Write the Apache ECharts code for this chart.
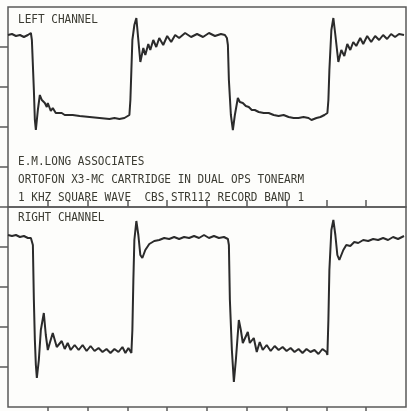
<!DOCTYPE html>
<html>
<head>
<meta charset="utf-8">
<script src="https://cdn.jsdelivr.net/npm/echarts@6/dist/echarts.min.js"></script>
<style>
html,body{margin:0;padding:0;background:#fdfdfb;}
#chart{width:407px;height:411px;}
</style>
</head>
<body>
<div id="chart"></div>
<script>
// time in microseconds (200 us / division), amplitude in mV (20 mV / division)
const xTicks = [200, 400, 600, 800, 1000, 1200, 1400, 1600, 1800];
const yTicksTop = [0, 20, 40, 60, 80];
const yTicksBottom = [20, 40, 60, 80];

const leftChannel = [
  [0,86],[20,86.5],[40,85.5],[60,86],[80,85],[100,86],[115,87],[120,83.5],[130,58.5],[135,43.5],[140,38.5],
  [150,48.5],[160,56],[170,53.5],[185,52],[195,50],[200,52],[215,48],[225,49.5],[240,47],[250,48],[270,47],
  [285,46],[295,47],[325,46],[360,45.5],[410,45],[460,44.5],[510,44],[535,44.5],[560,44],[585,44.5],[595,45],
  [610,46],[615,53.5],[620,68.5],[625,83.5],[635,91],[645,94.5],[655,83.5],[665,72.5],[680,79.5],[690,76],
  [705,81.5],[715,78.5],[730,83.5],[745,80],[760,84.5],[780,81],[800,85.5],[820,82.5],[840,86],[860,84.5],
  [890,87],[920,85],[950,86.5],[980,85],[1010,87],[1040,85.5],[1070,86.5],[1090,86],[1100,84.5],[1105,81],
  [1110,63.5],[1120,46],[1130,38.5],[1140,46],[1155,54.5],[1165,52.5],[1180,52],[1195,50.5],[1210,50],
  [1225,48.5],[1240,48.5],[1260,47.5],[1285,47],[1310,47],[1335,46],[1360,45.5],[1385,46],[1410,45],
  [1435,44.5],[1460,44.5],[1485,45],[1510,44.5],[1525,43.5],[1550,44.5],[1570,45],[1590,46],[1605,47],
  [1610,53.5],[1615,68.5],[1625,88.5],[1635,94.5],[1645,86],[1660,72.5],[1675,78.5],[1690,75.5],[1705,81.5],
  [1720,78.5],[1735,82.5],[1750,80.5],[1770,84.5],[1785,81.5],[1805,85.5],[1825,82.5],[1845,85.5],[1865,83.5],
  [1885,86],[1905,84],[1925,86.5],[1945,85],[1965,86.5],[1990,86]
];

const rightChannel = [
  [0,86],[20,85.5],[40,86],[60,85],[80,85.5],[100,84.5],[115,84.5],[125,81],[130,53.5],[135,33.5],[140,21],
  [145,14.5],[155,23.5],[165,38.5],[180,47],[190,36],[200,28.5],[210,32],[225,37],[245,30],[270,33],[285,29],
  [300,32],[315,28.5],[335,31],[355,28.5],[375,31],[395,28],[415,30.5],[435,28],[455,29.5],[475,27.5],[495,29],
  [515,27],[535,29],[555,27.5],[575,30],[590,27],[605,29.5],[620,27],[625,38.5],[630,63.5],[635,83.5],[645,93],
  [655,86],[665,76],[675,74.5],[690,78.5],[710,81.5],[735,83],[760,83.5],[785,84.5],[810,84],[835,85],[860,84],
  [885,85],[910,84.5],[935,85.5],[960,84.5],[985,86],[1010,84.5],[1035,85.5],[1060,84.5],[1085,85],[1105,84],
  [1110,81],[1115,53.5],[1125,28.5],[1135,12.5],[1145,23.5],[1160,43.5],[1170,38.5],[1180,32],[1205,37.5],
  [1215,32],[1235,34.5],[1250,27.5],[1265,32.5],[1280,28.5],[1300,31],[1320,28],[1340,30.5],[1360,28.5],
  [1380,30],[1400,28],[1420,29.5],[1440,27.5],[1460,29],[1480,27],[1500,29],[1520,27.5],[1540,28.5],[1560,26.5],
  [1580,29],[1600,27.5],[1605,26],[1610,43.5],[1615,68.5],[1625,88.5],[1635,93.5],[1645,86],[1655,76],[1665,73.5],
  [1685,78.5],[1700,81],[1720,80.5],[1740,82.5],[1760,82],[1785,83.5],[1810,83],[1835,84],[1860,83.5],[1885,84.5],
  [1910,83.5],[1935,85],[1960,84],[1990,85.5]
];

const labels = [
  {text: 'LEFT CHANNEL', y: 20},
  {text: 'E.M.LONG ASSOCIATES', y: 162},
  {text: 'ORTOFON X3-MC CARTRIDGE IN DUAL OPS TONEARM', y: 180},
  {text: '1 KHZ SQUARE WAVE  CBS STR112 RECORD BAND 1', y: 198},
  {text: 'RIGHT CHANNEL', y: 218}
];

const frameColor = '#5a5a5a';
const traceColor = '#2b2b2b';
const textColor = '#3b3b32';

function xAx(gridIndex, pos, len) {
  return {
    type: 'value', gridIndex: gridIndex, position: pos, min: 0, max: 2000, interval: 200,
    axisLine: {show: false},
    axisTick: {show: true, inside: false, length: len, customValues: xTicks, lineStyle: {color: frameColor, width: 1.5}},
    axisLabel: {show: false}, splitLine: {show: false}
  };
}
function yAx(gridIndex, ticks) {
  return {
    type: 'value', gridIndex: gridIndex, position: 'left', min: 0, max: 100, interval: 20,
    axisLine: {show: false},
    axisTick: {show: true, inside: false, length: 8, customValues: ticks, lineStyle: {color: frameColor, width: 1.5}},
    axisLabel: {show: false}, splitLine: {show: false}
  };
}

const chart = echarts.init(document.getElementById('chart'), null, {renderer: 'canvas'});
chart.setOption({
  backgroundColor: '#fdfdfb',
  animation: false,
  grid: [
    {left: 8, top: 7, width: 398, height: 200, show: true, borderColor: frameColor, borderWidth: 1.5, backgroundColor: 'transparent'},
    {left: 8, top: 207, width: 398, height: 200, show: true, borderColor: frameColor, borderWidth: 1.5, backgroundColor: 'transparent'}
  ],
  xAxis: [xAx(0, 'top', 7), xAx(1, 'bottom', 4)],
  yAxis: [yAx(0, yTicksTop), yAx(1, yTicksBottom)],
  series: [
    {name: 'Left channel', type: 'line', xAxisIndex: 0, yAxisIndex: 0, data: leftChannel, showSymbol: false,
     lineStyle: {color: traceColor, width: 2}},
    {name: 'Right channel', type: 'line', xAxisIndex: 1, yAxisIndex: 1, data: rightChannel, showSymbol: false,
     lineStyle: {color: traceColor, width: 2}}
  ],
  graphic: labels.map(function (l) {
    return {
      type: 'text', left: null, x: 18, y: l.y, scaleX: 0.85, silent: true,
      style: {text: l.text, fill: textColor, fontFamily: 'DejaVu Sans Mono', fontSize: 13,
              verticalAlign: 'middle', align: 'left'}
    };
  })
});
</script>
</body>
</html>
